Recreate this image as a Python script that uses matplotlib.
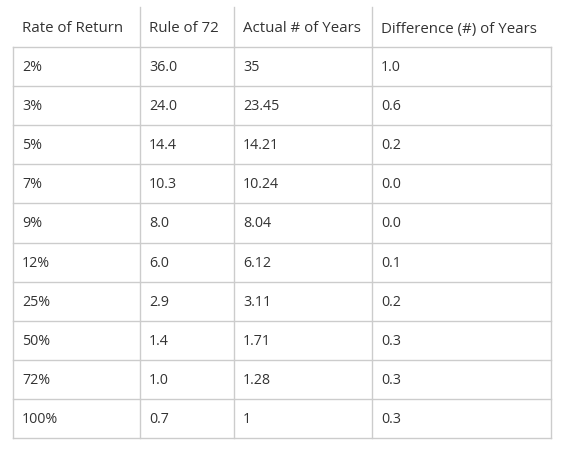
import matplotlib.pyplot as plt

headers = ["Rate of Return", "Rule of 72", "Actual # of Years", "Difference (#) of Years"]
rates = ["2%", "3%", "5%", "7%", "9%", "12%", "25%", "50%", "72%", "100%"]
rule72 = ["36.0", "24.0", "14.4", "10.3", "8.0", "6.0", "2.9", "1.4", "1.0", "0.7"]
actual = ["35", "23.45", "14.21", "10.24", "8.04", "6.12", "3.11", "1.71", "1.28", "1"]
diff = ["1.0", "0.6", "0.2", "0.0", "0.0", "0.1", "0.2", "0.3", "0.3", "0.3"]

col_x = [13, 140, 234, 372, 551]
head_top, head_bot = 8, 48
row_h = 39.1

fig = plt.figure(figsize=(5.67, 4.52), dpi=100)
ax = fig.add_axes([0, 0, 1, 1])
ax.set_xlim(0, 567)
ax.set_ylim(452, 0)
ax.axis("off")

line_c = "#cccccc"
txt_c = "#333333"
font = "Open Sans"

bottom = head_bot + row_h * len(rates)
# horizontal lines
ax.plot([col_x[0], col_x[-1]], [head_bot, head_bot], color=line_c, lw=1)
for i in range(1, len(rates) + 1):
    y = head_bot + i * row_h
    ax.plot([col_x[0], col_x[-1]], [y, y], color=line_c, lw=1)
# vertical lines (header has no outer border)
for i, x in enumerate(col_x):
    top = head_top if 0 < i < len(col_x) - 1 else head_bot
    ax.plot([x, x], [top, bottom], color=line_c, lw=1)

for j, h in enumerate(headers):
    ax.text(col_x[j] + 9, (head_top + head_bot) / 2 + 1, h, fontsize=10.8,
            color=txt_c, va="center", family=font)

cols = [rates, rule72, actual, diff]
for i in range(len(rates)):
    yc = head_bot + (i + 0.5) * row_h
    for j, col in enumerate(cols):
        ax.text(col_x[j] + 9, yc, col[i], fontsize=10.3, color=txt_c,
                va="center", family=font)

fig.savefig("out.png", dpi=100)
